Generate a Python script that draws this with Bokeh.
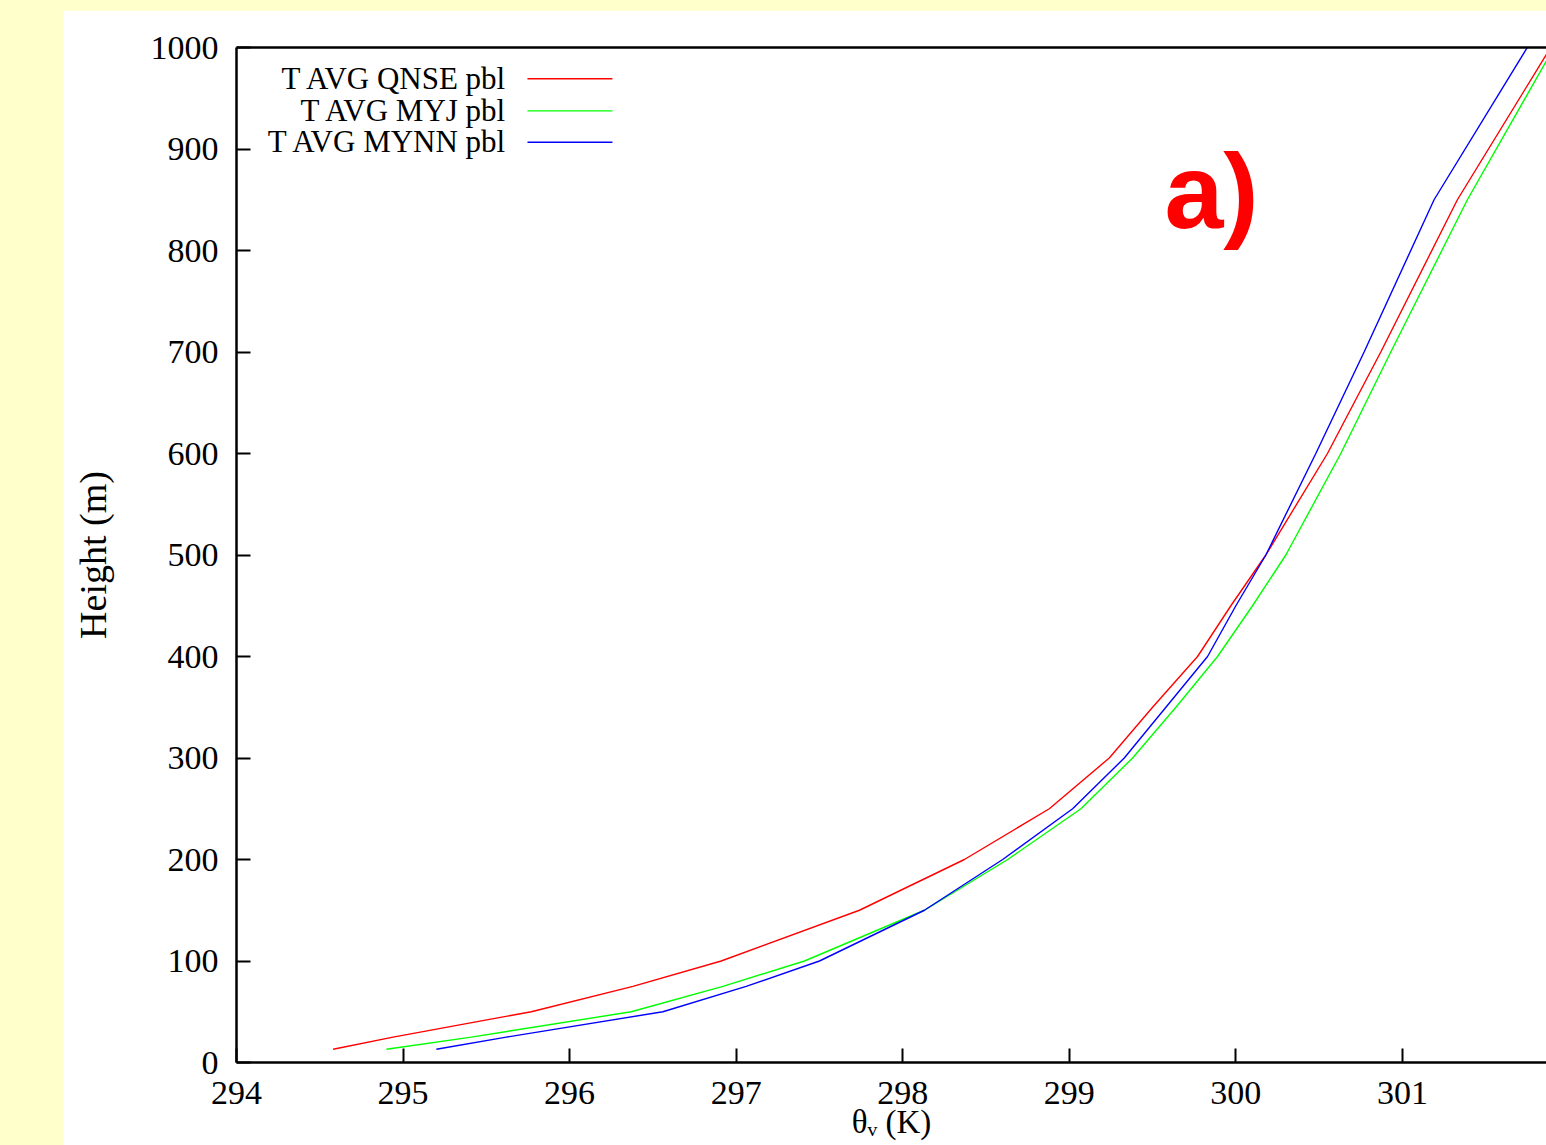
from bokeh.plotting import figure
from bokeh.models import Range1d, FixedTicker, LinearAxis, Label, ColumnDataSource
from bokeh.core.properties import value
from bokeh.embed import file_html
from bokeh.resources import INLINE

# ---- data ----
heights = [13, 25, 50, 75, 100, 150, 200, 250, 300, 350, 400, 450, 500, 600, 700, 850, 1000]
theta_qnse = [294.58, 294.94, 295.77, 296.38, 296.91, 297.74, 298.37, 298.88, 299.24, 299.50,
              299.77, 299.97, 300.18, 300.55, 300.87, 301.33, 301.89]
theta_myj = [294.90, 295.41, 296.37, 296.92, 297.41, 298.13, 298.63, 299.07, 299.38, 299.64,
             299.89, 300.10, 300.30, 300.63, 300.93, 301.39, 301.91]
theta_mynn = [295.20, 295.62, 296.56, 297.06, 297.50, 298.13, 298.60, 299.02, 299.33, 299.58,
              299.83, 300.00, 300.18, 300.48, 300.77, 301.19, 301.75]
series_names = ["T AVG QNSE pbl", "T AVG MYJ pbl", "T AVG MYNN pbl"]
series_colors = ["#ff0000", "#00ff00", "#0000ff"]
x_ticks = [294, 295, 296, 297, 298, 299, 300, 301]
y_ticks = [0, 100, 200, 300, 400, 500, 600, 700, 800, 900, 1000]
x_title = "θᵥ (K)"
y_title = "Height (m)"

SERIF = "Liberation Serif"

p = figure(width=1483, height=1135,
           x_range=Range1d(294, 301.865), y_range=Range1d(0, 1000),
           output_backend="svg", toolbar_location=None,
           min_border_left=173, min_border_right=0,
           min_border_top=37, min_border_bottom=83)
p.margin = (10, 0, 0, 63)
p.background_fill_color = "white"
p.border_fill_color = "white"
p.outline_line_color = None
p.xgrid.visible = False
p.ygrid.visible = False

for ax, ticks in ((p.xaxis[0], x_ticks), (p.yaxis[0], y_ticks)):
    ax.ticker = FixedTicker(ticks=ticks)
    ax.minor_tick_line_color = None
    ax.major_tick_in = 14
    ax.major_tick_out = 0
    ax.major_tick_line_width = 2
    ax.major_tick_line_color = "black"
    ax.axis_line_width = 2.5
    ax.axis_line_color = "black"
    ax.major_label_text_font = SERIF
    ax.major_label_text_font_size = "34px"
    ax.major_label_text_color = "black"

xa = p.xaxis[0]
xa.major_label_standoff = 19
xa.major_label_text_line_height = 1.0
xa.axis_label = x_title
xa.axis_label_text_font = SERIF
xa.axis_label_text_font_size = "33px"
xa.axis_label_text_line_height = 1.0
xa.axis_label_text_font_style = "normal"
xa.axis_label_text_color = "black"
xa.axis_label_standoff = -3

ya = p.yaxis[0]
ya.major_label_standoff = 18
ya.axis_label = y_title
ya.axis_label_text_font = SERIF
ya.axis_label_text_font_size = "38px"
ya.axis_label_text_font_style = "normal"
ya.axis_label_text_color = "black"
ya.axis_label_standoff = 34

top = LinearAxis(ticker=FixedTicker(ticks=[]), major_label_text_font_size="0px",
                 axis_line_width=2.5, axis_line_color="black",
                 major_tick_line_color=None, minor_tick_line_color=None)
p.add_layout(top, "above")

for xs, name, col in zip((theta_qnse, theta_myj, theta_mynn), series_names, series_colors):
    p.line(xs, heights, line_color=col, line_width=1.4)

# legend (gnuplot style: text right-aligned, sample line to the right)
leg = ColumnDataSource(dict(
    name=series_names, color=series_colors,
    tx=[295.627] * 3, ty=[969.8, 938.3, 907.3],
    x0=[295.747] * 3, x1=[296.257] * 3, ly=[969.2, 937.6, 906.7]))
p.text(x="tx", y="ty", text="name", source=leg, text_align="right",
       text_baseline="alphabetic", text_font=value(SERIF), text_font_size="31px",
       text_color="black")
p.segment(x0="x0", y0="ly", x1="x1", y1="ly", source=leg, line_color="color", line_width=1.4)

p.add_layout(Label(x=299.571, y=859.0, text="a)", text_font="Liberation Sans",
                   text_font_style="bold", text_font_size="106px", text_color="#ff0000",
                   text_baseline="alphabetic", text_align="left"))

html = file_html(p, INLINE)
html = html.replace("</head>",
                    "<style>html, body { margin: 0; padding: 0; background-color: #ffffcc; }</style></head>", 1)
open("out.html", "w").write(html)
